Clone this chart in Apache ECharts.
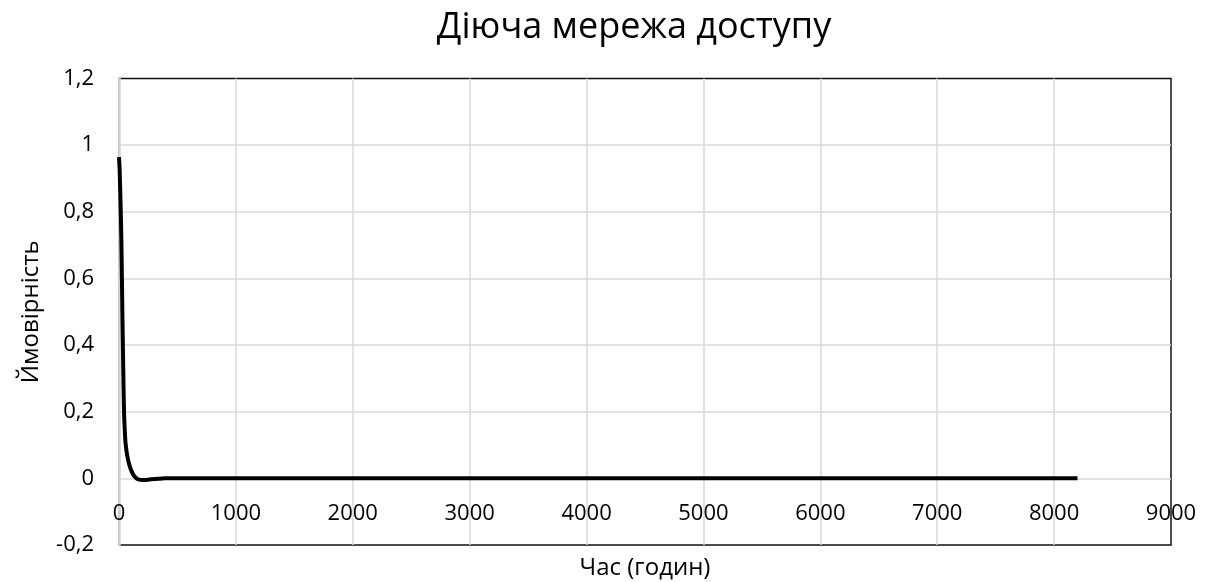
<!DOCTYPE html>
<html>
<head>
<meta charset="utf-8">
<script src="https://cdn.jsdelivr.net/npm/echarts@6/dist/echarts.min.js"></script>
<style>
  html, body { margin: 0; padding: 0; background: #fff; }
  #chart { width: 1206px; height: 582px; }
</style>
</head>
<body>
<div id="chart"></div>
<script>
// Hours since start and probability of the network being in the working state
const hours = [0, 5, 10, 15, 20, 25, 30, 35, 43, 50, 55, 65, 75, 85, 100, 115, 130, 150, 165, 200, 250, 300, 350, 400, 500, 1000, 2000, 3000, 4000, 5000, 6000, 7000, 8000, 8200];
const probability = [0.964, 0.93, 0.87, 0.8, 0.72, 0.6, 0.47, 0.36, 0.2, 0.14, 0.11, 0.08, 0.06, 0.045, 0.028, 0.016, 0.007, 0.0, -0.003, -0.005, -0.004, -0.002, -0.001, 0, 0, 0, 0, 0, 0, 0, 0, 0, 0, 0];

const titleText = 'Діюча мережа доступу';
const xName = 'Час (годин)';
const yName = 'Ймовірність';

const seriesData = hours.map((h, i) => [h, probability[i]]);
const font = '"Open Sans", "Noto Sans", sans-serif';

const Y_MIN = -0.2, Y_MAX = 1.2;
const GRID = { left: 119, right: 35, top: 78.5, bottom: 37 };
const plotHeight = 582 - GRID.top - GRID.bottom;
// lift the category labels from the bottom edge up to the zero line
const zeroOffset = -plotHeight * (0 - Y_MIN) / (Y_MAX - Y_MIN);

const chart = echarts.init(document.getElementById('chart'), null, { renderer: 'canvas' });
chart.setOption({
  backgroundColor: '#ffffff',
  animation: false,
  title: {
    text: titleText,
    left: 629,
    top: 5,
    textAlign: 'center',
    textStyle: { fontFamily: font, fontSize: 36, fontWeight: 'normal', color: '#000' }
  },
  grid: {
    left: GRID.left, right: GRID.right, top: GRID.top, bottom: GRID.bottom,
    outerBoundsMode: 'none',
    containLabel: false,
    show: true, borderColor: '#111', borderWidth: 1.5, backgroundColor: 'transparent'
  },
  xAxis: {
    type: 'value',
    position: 'bottom',
    offset: zeroOffset,
    min: 0, max: 9000, interval: 1000,
    name: xName,
    nameLocation: 'middle',
    nameGap: 78,
    nameTextStyle: { fontFamily: font, fontSize: 24, color: '#000' },
    axisLine: { show: false },
    axisTick: { show: false },
    axisLabel: {
      fontFamily: font, fontSize: 22, color: '#000', margin: 24,
      showMaxLabel: true, showMinLabel: true,
      formatter: v => String(v)
    },
    splitLine: { show: true, showMaxLine: false, lineStyle: { color: '#d9d9d9', width: 1.5 } }
  },
  yAxis: {
    type: 'value',
    min: Y_MIN, max: Y_MAX, interval: 0.2,
    name: yName,
    nameLocation: 'middle',
    nameGap: 76,
    nameTextStyle: { fontFamily: font, fontSize: 24, color: '#000' },
    axisLine: { show: true, lineStyle: { color: '#d0d0d0', width: 2.5 } },
    axisTick: { show: false },
    axisLabel: {
      fontFamily: font, fontSize: 22, color: '#000', margin: 25,
      formatter: v => (Math.round(v * 10) / 10).toString().replace('.', ',')
    },
    splitLine: { show: true, showMinLine: false, showMaxLine: false, lineStyle: { color: '#d9d9d9', width: 1.5 } }
  },
  series: [{
    type: 'line',
    data: seriesData,
    smooth: 0.3,
    showSymbol: false,
    lineStyle: { color: '#000', width: 4 }
  }]
});
</script>
</body>
</html>
